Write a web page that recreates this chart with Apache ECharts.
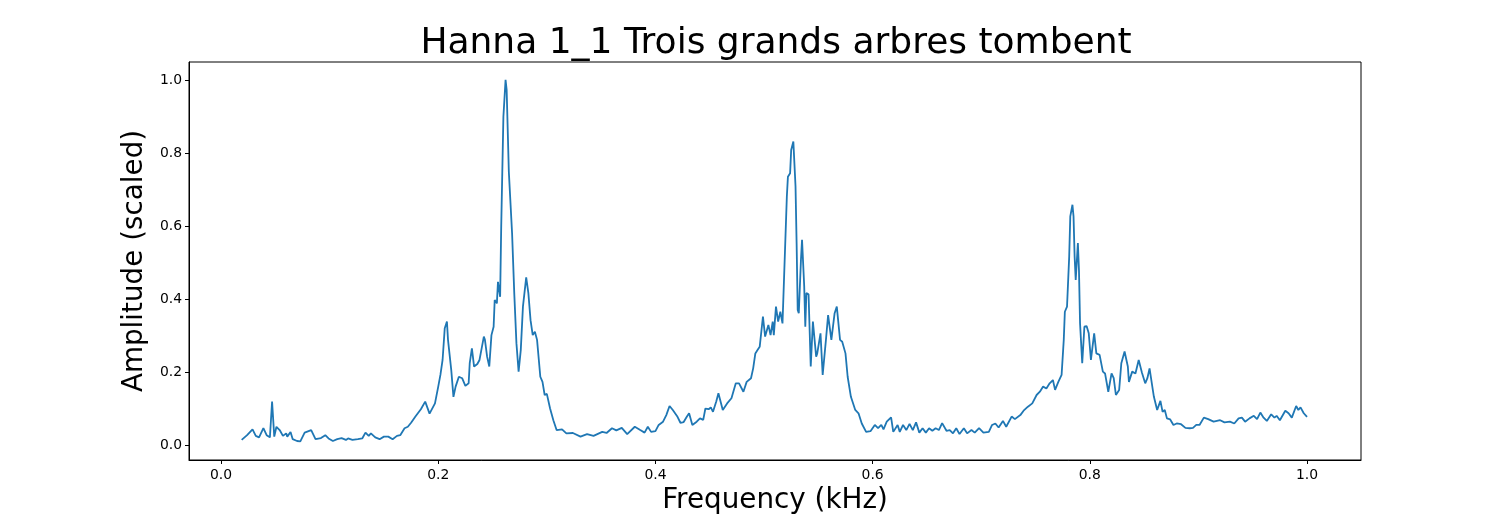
<!DOCTYPE html>
<html>
<head>
<meta charset="utf-8">
<script src="https://cdn.jsdelivr.net/npm/echarts@6/dist/echarts.min.js"></script>
<style>
html,body{margin:0;padding:0;background:#fff;overflow:hidden;}
#chart{width:1512px;height:517px;}
</style>
</head>
<body>
<div id="chart"></div>
<script>
const titleText = "Hanna 1_1 Trois grands arbres tombent";
const xAxisTitle = "Frequency (kHz)";
const yAxisTitle = "Amplitude (scaled)";
const xTicks = [0.0, 0.2, 0.4, 0.6, 0.8, 1.0];
const yTicks = [0.0, 0.2, 0.4, 0.6, 0.8, 1.0];

const freq = [
0.019,0.024,0.029,0.032,0.035,0.039,0.042,0.045,0.047,0.049,0.051,0.054,0.057,0.060,0.061,0.064,0.066,0.070,0.073,0.077,
0.083,0.087,0.092,0.096,0.099,0.103,0.107,0.111,0.115,0.117,0.121,0.126,0.130,0.133,0.136,0.138,0.142,0.146,0.150,0.154,
0.158,0.162,0.165,0.169,0.172,0.175,0.179,0.184,0.188,0.192,0.197,0.200,0.202,0.204,0.206,0.208,0.209,0.212,0.214,0.216,
0.219,0.222,0.225,0.228,0.229,0.231,0.233,0.236,0.238,0.239,0.242,0.243,0.245,0.247,0.249,0.251,0.252,0.254,0.255,0.257,
0.258,0.260,0.262,0.263,0.265,0.266,0.268,0.270,0.272,0.274,0.276,0.278,0.281,0.283,0.285,0.287,0.289,0.291,0.294,0.296,
0.298,0.300,0.303,0.306,0.309,0.314,0.318,0.324,0.331,0.337,0.343,0.351,0.355,0.360,0.364,0.369,0.374,0.381,0.386,0.390,
0.393,0.396,0.400,0.403,0.407,0.410,0.413,0.416,0.420,0.423,0.426,0.429,0.431,0.434,0.438,0.441,0.444,0.446,0.449,0.451,
0.453,0.456,0.458,0.462,0.466,0.470,0.474,0.477,0.481,0.484,0.488,0.490,0.492,0.494,0.496,0.498,0.499,0.501,0.504,0.506,
0.508,0.509,0.511,0.513,0.515,0.517,0.518,0.521,0.522,0.524,0.525,0.527,0.529,0.530,0.531,0.532,0.534,0.535,0.537,0.538,
0.539,0.541,0.543,0.545,0.548,0.549,0.552,0.554,0.557,0.559,0.562,0.565,0.567,0.570,0.572,0.575,0.577,0.580,0.584,0.587,
0.590,0.594,0.598,0.602,0.605,0.608,0.610,0.613,0.617,0.619,0.623,0.625,0.628,0.631,0.634,0.637,0.640,0.643,0.646,0.649,
0.652,0.655,0.658,0.661,0.664,0.668,0.671,0.674,0.677,0.680,0.684,0.687,0.691,0.694,0.698,0.702,0.707,0.710,0.713,0.716,
0.720,0.723,0.728,0.731,0.736,0.739,0.743,0.747,0.751,0.754,0.757,0.760,0.763,0.766,0.768,0.771,0.774,0.776,0.777,0.779,
0.781,0.782,0.784,0.785,0.786,0.787,0.789,0.790,0.791,0.793,0.795,0.797,0.799,0.801,0.804,0.806,0.809,0.812,0.814,0.817,
0.820,0.822,0.824,0.827,0.829,0.832,0.835,0.836,0.839,0.842,0.845,0.848,0.851,0.853,0.855,0.858,0.859,0.862,0.865,0.867,
0.869,0.871,0.874,0.877,0.880,0.884,0.888,0.892,0.895,0.898,0.901,0.905,0.909,0.914,0.920,0.924,0.929,0.933,0.937,0.940,
0.943,0.947,0.951,0.954,0.957,0.960,0.963,0.967,0.970,0.972,0.975,0.980,0.983,0.986,0.990,0.992,0.994,0.997,1.000
];

const amp = [
0.014,0.027,0.043,0.025,0.021,0.046,0.027,0.021,0.119,0.023,0.050,0.041,0.025,0.032,0.023,0.036,0.016,0.011,0.010,0.034,
0.041,0.016,0.019,0.027,0.018,0.011,0.016,0.019,0.014,0.018,0.014,0.016,0.018,0.034,0.025,0.032,0.021,0.016,0.023,0.023,
0.016,0.025,0.027,0.046,0.050,0.061,0.078,0.098,0.119,0.086,0.114,0.160,0.192,0.233,0.320,0.338,0.288,0.205,0.132,0.160,
0.187,0.183,0.162,0.169,0.224,0.265,0.215,0.222,0.233,0.228,0.297,0.288,0.242,0.215,0.301,0.324,0.397,0.388,0.447,0.406,
0.600,0.899,1.000,0.973,0.749,0.744,0.580,0.416,0.279,0.201,0.260,0.379,0.459,0.416,0.342,0.301,0.310,0.288,0.187,0.173,
0.137,0.140,0.100,0.068,0.041,0.043,0.032,0.033,0.023,0.030,0.025,0.036,0.033,0.046,0.040,0.047,0.030,0.050,0.041,0.034,
0.050,0.036,0.038,0.055,0.064,0.082,0.107,0.096,0.079,0.061,0.063,0.078,0.087,0.055,0.064,0.073,0.069,0.100,0.098,0.103,
0.091,0.119,0.142,0.096,0.114,0.128,0.169,0.169,0.146,0.173,0.183,0.210,0.251,0.260,0.269,0.324,0.352,0.297,0.329,0.301,
0.338,0.301,0.379,0.338,0.365,0.333,0.329,0.680,0.735,0.744,0.808,0.831,0.708,0.553,0.370,0.361,0.507,0.562,0.434,0.324,
0.416,0.413,0.215,0.338,0.242,0.251,0.306,0.192,0.288,0.356,0.288,0.361,0.379,0.288,0.283,0.251,0.187,0.132,0.096,0.087,
0.059,0.036,0.038,0.055,0.046,0.055,0.043,0.064,0.076,0.036,0.055,0.036,0.055,0.041,0.058,0.041,0.062,0.034,0.046,0.034,
0.046,0.039,0.046,0.041,0.060,0.039,0.041,0.032,0.046,0.030,0.046,0.032,0.041,0.034,0.046,0.034,0.036,0.055,0.059,0.048,
0.066,0.050,0.078,0.071,0.082,0.094,0.105,0.114,0.137,0.146,0.160,0.155,0.169,0.178,0.151,0.173,0.192,0.288,0.365,0.379,
0.516,0.626,0.658,0.626,0.516,0.452,0.553,0.479,0.333,0.224,0.324,0.326,0.306,0.233,0.306,0.251,0.247,0.201,0.196,0.146,
0.196,0.183,0.137,0.151,0.224,0.256,0.215,0.173,0.201,0.196,0.233,0.198,0.169,0.183,0.210,0.151,0.132,0.096,0.121,0.091,
0.096,0.073,0.070,0.055,0.059,0.057,0.047,0.046,0.047,0.055,0.055,0.075,0.071,0.064,0.068,0.062,0.064,0.059,0.073,0.075,
0.064,0.073,0.080,0.071,0.089,0.075,0.066,0.084,0.075,0.080,0.068,0.094,0.087,0.075,0.107,0.096,0.103,0.087,0.077
];

const seriesData = freq.map((f, i) => [f, amp[i]]);
const fmt = v => Number(v).toFixed(1);

const chart = echarts.init(document.getElementById('chart'), null, {renderer: 'canvas'});
chart.setOption({
  animation: false,
  backgroundColor: '#ffffff',
  textStyle: {fontFamily: 'DejaVu Sans'},
  title: {
    text: titleText,
    left: 771,
    textAlign: 'center',
    top: 21,
    textStyle: {fontFamily: 'DejaVu Sans', fontSize: 36, fontWeight: 'normal', color: '#000'}
  },
  grid: {
    left: 189, right: 151, top: 62, bottom: 57,
    containLabel: false,
    outerBoundsMode: 'none',
    show: true, borderColor: '#000', borderWidth: 1, backgroundColor: 'transparent'
  },
  xAxis: {
    type: 'value',
    min: -0.0295, max: 1.0497,
    name: xAxisTitle,
    nameLocation: 'middle',
    nameGap: 25,
    nameTextStyle: {fontFamily: 'DejaVu Sans', fontSize: 27.8, color: '#000'},
    axisLine: {show: true, onZero: false, lineStyle: {color: '#000', width: 1}},
    axisTick: {show: true, length: 4, customValues: xTicks, lineStyle: {color: '#000', width: 1}},
    axisLabel: {show: true, customValues: xTicks, formatter: fmt, margin: 8, fontSize: 13.9, color: '#000', fontFamily: 'DejaVu Sans'},
    splitLine: {show: false}
  },
  yAxis: {
    type: 'value',
    min: -0.041, max: 1.049,
    name: yAxisTitle,
    nameLocation: 'middle',
    nameGap: 33,
    nameTextStyle: {fontFamily: 'DejaVu Sans', fontSize: 27.8, color: '#000'},
    axisLine: {show: true, onZero: false, lineStyle: {color: '#000', width: 1}},
    axisTick: {show: true, length: 4, customValues: yTicks, lineStyle: {color: '#000', width: 1}},
    axisLabel: {show: true, customValues: yTicks, formatter: fmt, margin: 7, fontSize: 13.9, color: '#000', fontFamily: 'DejaVu Sans'},
    splitLine: {show: false}
  },
  series: [{
    type: 'line',
    data: seriesData,
    showSymbol: false,
    symbol: 'none',
    smooth: false,
    lineStyle: {color: '#1f77b4', width: 1.8},
    itemStyle: {color: '#1f77b4'}
  }]
});
</script>
</body>
</html>
